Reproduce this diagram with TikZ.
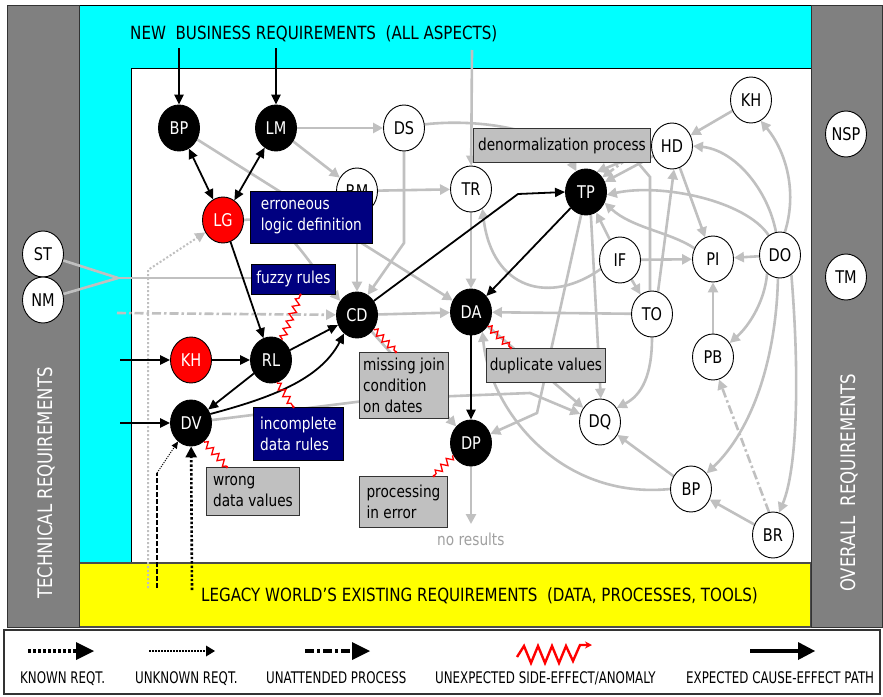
\documentclass[tikz,border=0pt]{standalone}
\usepackage{fontspec}
\setmainfont{DejaVu Sans}[FakeStretch=0.83]
\newfontfamily\legendfont{DejaVu Sans}[FakeStretch=0.74]
\usetikzlibrary{arrows.meta,shapes.geometric,decorations.pathmorphing}
\definecolor{aqua}{RGB}{0,255,255}
\definecolor{lemon}{RGB}{255,255,0}
\definecolor{bandgray}{RGB}{128,128,128}
\definecolor{silver}{RGB}{192,192,192}
\definecolor{navyblue}{RGB}{0,0,128}
\definecolor{boxgray}{RGB}{192,192,192}
\definecolor{faint}{RGB}{160,160,160}
\pgfdeclarelayer{bg}
\pgfdeclarelayer{edges}
\pgfsetlayers{bg,edges,main}
\begin{document}
\begin{tikzpicture}[x=1pt,y=-1pt,
  state/.style={ellipse, draw=black, line width=0.9pt, minimum width=41pt,
    minimum height=46pt, inner sep=0pt, font=\fontsize{17.5}{20}\selectfont},
  blk/.style={state, fill=black, text=white},
  hot/.style={state, fill=red, text=white},
  open/.style={state, fill=white, text=black},
  gtip/.style={-{Triangle[length=10pt,width=10pt]}},
  gl/.style={draw=silver, line width=2.6pt},
  g/.style={gl, gtip},
  gdashdot/.style={dash pattern=on 9pt off 3pt on 2.5pt off 3pt},
  gdots/.style={draw=silver, line width=2pt, dash pattern=on 2pt off 2pt, gtip},
  bk/.style={draw=black, line width=1.8pt, -{Triangle[length=10pt,width=9pt]}},
  bkboth/.style={draw=black, line width=1.8pt,
    {Triangle[length=10pt,width=9pt]}-{Triangle[length=10pt,width=9pt]}},
  bkthick/.style={bk, line width=2.8pt},
  known/.style={draw=black, line width=2.6pt, dash pattern=on 2.4pt off 2pt,
    -{Triangle[length=11pt,width=11pt]}},
  halfknown/.style={draw=black, line width=2pt, dash pattern=on 5pt off 2pt},
  unknown/.style={draw=black, line width=0.9pt, dash pattern=on 1.2pt off 1.2pt,
    -{Triangle[length=7pt,width=6pt]}},
  boxbase/.style={rectangle, anchor=north west, align=left, inner ysep=2pt,
    font=\fontsize{16.5}{21}\selectfont},
  navybox/.style={boxbase, fill=navyblue, draw=black, line width=0.8pt, text=white},
  greybox/.style={boxbase, fill=boxgray, draw=black!80, line width=0.9pt, text=black},
  zz/.style={draw=red, line width=1.3pt, decorate,
    decoration={zigzag, segment length=8pt, amplitude=3.2pt, pre length=1pt, post length=1pt}},
  title/.style={font=\fontsize{18.2}{21}\selectfont, inner sep=0pt},
  sidetitle/.style={font=\fontsize{20}{22}\selectfont, text=white, inner sep=0pt,
    rotate=90, anchor=base},
  legend/.style={font=\legendfont\fontsize{16}{18}\selectfont, inner sep=0pt, anchor=base west}
]
\useasboundingbox (0,0) rectangle (883,696);

% ---------- panels ----------
\begin{pgfonlayer}{bg}
  \fill[white] (0,0) rectangle (883,696);
  \draw[fill=aqua, line width=0.9pt] (79,5) rectangle (811,563);
  \draw[fill=white, line width=0.9pt] (131,68) rectangle (811,563);
  \draw[fill=lemon, draw=black!70, line width=1.2pt] (79,563) rectangle (811,627);
  \draw[fill=bandgray, draw=black!80, line width=1pt] (7,5) rectangle (79,627);
  \draw[fill=bandgray, draw=black!80, line width=1pt] (811,5) rectangle (882,627);
  \draw[fill=white, draw=black!80, line width=1.2pt] (4,630) rectangle (880,694);
\end{pgfonlayer}

% ---------- titles ----------
\node[title, anchor=base west] (newreq) at (130,39) {NEW\ \ BUSINESS REQUIREMENTS\ \ (ALL ASPECTS)};
\node[title, anchor=base west] (legacy) at (201,601) {LEGACY WORLD'S EXISTING REQUIREMENTS\ \ (DATA, PROCESSES, TOOLS)};
\node[sidetitle] (techreq) at (52,483) {TECHNICAL REQUIREMENTS};
\node[sidetitle] (overall) at (855,483) {OVERALL\ \ REQUIREMENTS};
\node[font=\fontsize{16.5}{20}\selectfont, text=faint, inner sep=0pt, anchor=base west] (nores) at (437,545) {no results};

% ---------- states ----------
\node[blk]  (BP)  at (179,128) {BP};
\node[blk]  (LM)  at (276,128) {LM};
\node[open] (DS)  at (404,128) {DS};
\node[open] (RM)  at (357,191) {RM};
\node[hot]  (LG)  at (223,220) {LG};
\node[open] (ST)  at (43,254)  {ST};
\node[open] (NM)  at (43,300)  {NM};
\node[blk]  (CD)  at (357,315) {CD};
\node[hot]  (KH)  at (191,360) {KH};
\node[blk]  (RL)  at (271,360) {RL};
\node[blk]  (DV)  at (191,423) {DV};
\node[open] (TR)  at (471,189) {TR};
\node[blk]  (TP)  at (586,192) {TP};
\node[blk]  (DA)  at (471,312) {DA};
\node[blk]  (DP)  at (471,443) {DP};
\node[open] (HD)  at (672,146) {HD};
\node[open] (KH2) at (751,100) {KH};
\node[open] (NSP) at (846,134) {NSP};
\node[open] (IF)  at (620,260) {IF};
\node[open] (PI)  at (713,259) {PI};
\node[open] (DO)  at (780,255) {DO};
\node[open] (TM)  at (846,277) {TM};
\node[open] (TO)  at (652,314) {TO};
\node[open] (PB)  at (713,357) {PB};
\node[open] (DQ)  at (600,422) {DQ};
\node[open] (BP2) at (691,489) {BP};
\node[open] (BR)  at (773,535) {BR};

% free ends of connectors
\coordinate (nbA) at (179,48);
\coordinate (nbB) at (276,48);
\coordinate (nbC) at (472,50);
\coordinate (inKH) at (120,360);
\coordinate (inDV) at (120,423);
\coordinate (lgA) at (192,590);
\coordinate (lgB) at (157,588);
\coordinate (lgBk) at (157,473);
\coordinate (lgC) at (148,588);
\coordinate (lgCk) at (148,270);
\coordinate (unatt) at (117,313);
\coordinate (stnm) at (118,278);
\coordinate (stnmEnd) at (300,278);
\coordinate (cdk) at (518,194);
\coordinate (noresTop) at (471,524);
\coordinate (tpdash) at (642,148);

% ---------- connectors ----------
\begin{pgfonlayer}{edges}
  % grey dependencies
  \draw[g] (LM) -- (DS);
  \draw[g] (LM) -- (RM);
  \draw[g] (BP) -- (DA);
  \draw[g] (RM) -- (TR);
  \draw[g] (RM) -- (CD);
  \draw[g] (DS.south) -- (404,243) -- (CD.62);
  \draw[g] (DS.10) .. controls (480,118) and (555,130) .. (TP.115);
  \draw[g] (nbC) -- (TR);
  \draw[g] (TR) -- (DA);
  \draw[g] (IF.205) .. controls (550,305) and (492,290) .. (TR.300);
  \draw[g] (LG.east) .. controls (285,215) and (302,255) .. (CD.140);
  \draw[gl] (ST) -- (stnm);
  \draw[gl] (NM) -- (stnm);
  \draw[gl] (stnm) -- (stnmEnd);
  \draw[g, gdashdot] (unatt) -- (CD);
  \draw[gdots] (lgC) -- (lgCk) -- (LG.215);
  \draw[g] (CD) -- (DA);
  \draw[g] (CD) -- (DP);
  \draw[g] (DV.8) -- (380,399) -- (530,393) -- (DQ.158);
  \draw[g] (DA) -- (DQ);
  \draw[g] (TP.258) -- (537,413) -- (DP.25);
  \draw[g] (TP.282) -- (DQ.88);
  \draw[g] (TO) -- (DA);
  \draw[g] (TO.south) .. controls (652,375) and (642,395) .. (DQ.40);
  \draw[g] (IF) -- (TO);
  \draw[g] (IF) -- (PI);
  \draw[g] (DO) -- (PI);
  \draw[g] (PB) -- (PI);
  \draw[g] (IF) -- (TP);
  \draw[g] (PI.150) .. controls (670,232) and (632,228) .. (TP.-30);
  \draw[g] (DO.120) .. controls (745,200) and (660,183) .. (TP.-8);
  \draw[g] (DO.100) .. controls (768,190) and (735,150) .. (HD.east);
  \draw[g] (DO.78) .. controls (798,190) and (785,150) .. (KH2.295);
  \draw[g] (KH2) -- (HD);
  \draw[g] (HD) -- (TP);
  \draw[g] (HD) -- (PI);
  \draw[g] (TO.75) -- (HD.275);
  \draw[g] (TO.95) -- (650,177) -- (633,157) -- (TP.62);
  \draw[g, gdashdot] (tpdash) -- (TP.42);
  \draw[g] (DO.235) .. controls (765,300) and (750,325) .. (PB.40);
  \draw[g] (DO.265) .. controls (776,360) and (752,430) .. (BP2.45);
  \draw[g] (DO.300) .. controls (800,380) and (797,470) .. (BR.75);
  \draw[g] (BR) -- (BP2);
  \draw[g, gdashdot] (BR.100) -- (PB.285);
  \draw[g] (BP2) -- (DQ);
  \draw[g] (BP2.west) .. controls (560,500) and (490,410) .. (DA.300);
  \draw[g] (DP) -- (noresTop);

  % black cause-effect paths
  \draw[bkthick] (nbA) -- (BP);
  \draw[bkthick] (nbB) -- (LM);
  \draw[bkboth] (BP) -- (LG);
  \draw[bkboth] (LM) -- (LG);
  \draw[bk] (LG) -- (RL);
  \draw[bkthick] (inKH) -- (KH);
  \draw[bkthick] (KH) -- (RL);
  \draw[bkthick] (inDV) -- (DV);
  \draw[bk] (RL) -- (CD);
  \draw[bk] (RL) -- (DV);
  \draw[bk] (DV.25) .. controls (270,398) and (320,380) .. (CD.235);
  \draw[bk] (CD.40) -- (cdk) -- (TP.180);
  \draw[bk] (TP) -- (DA);
  \draw[bkthick] (DA) -- (DP);
  \draw[known] (lgA) -- (DV);
  \draw[halfknown] (lgB) -- (lgBk);
  \draw[unknown] (lgBk) -- (DV.235);
\end{pgfonlayer}

% ---------- annotations ----------
\node[navybox, minimum width=122pt, minimum height=52pt] (err) at (250,191) {erroneous\\logic definition};
\node[navybox, minimum width=84pt, minimum height=30pt] (fuzzy) at (251,264) {fuzzy rules};
\node[greybox, minimum width=89pt, minimum height=66pt] (joinbox) at (359,352) {missing join\\condition\\on dates};
\node[navybox, minimum width=90pt, minimum height=53pt] (incomplete) at (253,407) {incomplete\\data rules};
\node[greybox, minimum width=93pt, minimum height=48pt] (wrong) at (206,467) {wrong\\data values};
\node[greybox, minimum width=88pt, minimum height=51pt] (procerr) at (359,476) {processing\\in error};
\node[greybox, minimum width=118pt, minimum height=34pt] (dup) at (486,348) {duplicate values};
\node[greybox, minimum width=177pt, minimum height=34pt] (denorm) at (473,128) {denormalization process};

% side effects
\draw[zz] (RL.62) -- ([xshift=7pt]fuzzy.south);
\fill[red] ([xshift=7pt]fuzzy.south) circle (1.5pt);
\draw[zz] (RL.285) -- ([xshift=-5pt]incomplete.north);
\fill[red] ([xshift=-5pt]incomplete.north) circle (1.5pt);
\draw[zz] (CD.-40) -- ([xshift=-8pt]joinbox.north);
\fill[red] ([xshift=-8pt]joinbox.north) circle (1.5pt);
\draw[zz] (DA.-40) -- ([xshift=-35pt]dup.north);
\fill[red] ([xshift=-35pt]dup.north) circle (1.5pt);
\draw[zz] (DV.-55) -- ([xshift=-26pt]wrong.north);
\fill[red] ([xshift=-26pt]wrong.north) circle (1.5pt);
\draw[zz] (DP.215) -- ([xshift=-14pt]procerr.north east);
\fill[red] ([xshift=-14pt]procerr.north east) circle (1.5pt);

% ---------- legend ----------
\draw[black, line width=4pt, dash pattern=on 3pt off 2pt] (28,651) -- (76,651);
\fill[black] (76,642) -- (94,651) -- (76,660) -- cycle;
\draw[black, line width=2pt, dash pattern=on 1.5pt off 1.5pt] (149,651) -- (206,651);
\fill[black] (206,645.5) -- (215,651) -- (206,656.5) -- cycle;
\draw[black, line width=4pt, dash pattern=on 9pt off 3pt on 3pt off 3pt] (305,651) -- (352,651);
\fill[black] (352,642) -- (370,651) -- (352,660) -- cycle;
\draw[red, line width=2.4pt, line join=miter, -{Stealth[length=7pt,width=7pt]}]
  (517,657) -- (524,646) -- (531,663) -- (538,646) -- (545,663) -- (552,646)
  -- (559,663) -- (566,646) -- (573,661) -- (580,645) -- (592,645);
\draw[black, line width=4pt] (750,651) -- (798,651);
\fill[black] (798,642) -- (815,651) -- (798,660) -- cycle;

\node[legend] (lk) at (20,683) {KNOWN REQT.};
\node[legend] (lu) at (135,683) {UNKNOWN REQT.};
\node[legend] (la) at (266,683) {UNATTENDED PROCESS};
\node[legend] (ls) at (435,683) {UNEXPECTED SIDE-EFFECT/ANOMALY};
\node[legend] (le) at (686,683) {EXPECTED CAUSE-EFFECT PATH};
\end{tikzpicture}
\end{document}
